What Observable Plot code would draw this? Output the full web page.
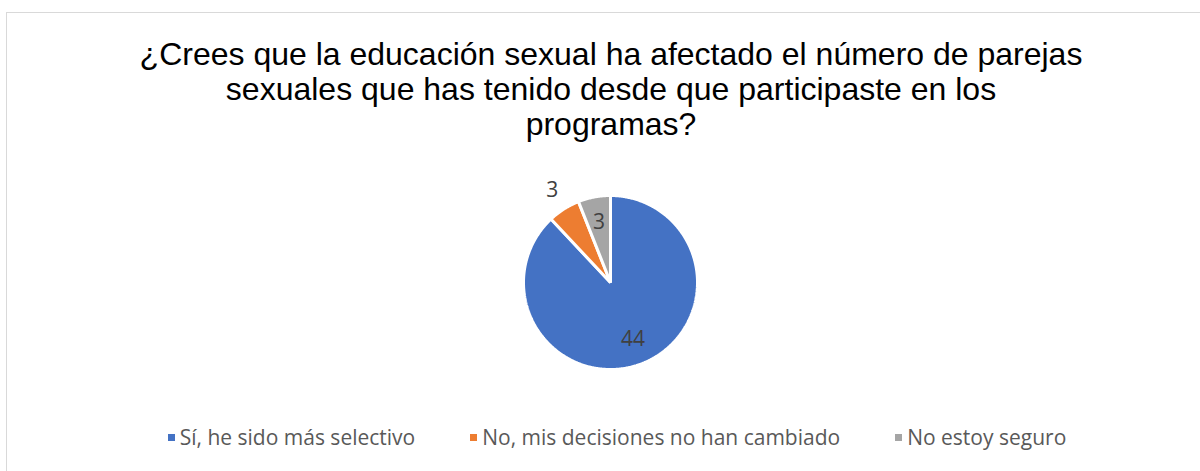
<!DOCTYPE html>
<html>
<head>
<meta charset="utf-8">
<script src="https://cdn.jsdelivr.net/npm/d3@7"></script>
<script src="https://cdn.jsdelivr.net/npm/@observablehq/plot@0.6"></script>
<style>
  html, body { margin: 0; padding: 0; background: #fff; }
  #wrap { position: relative; width: 1200px; height: 471px; overflow: hidden; }
  #frame { position: absolute; left: 6px; top: 12px; width: 1300px; height: 600px; border: 1.5px solid #d9d9d9; box-sizing: border-box; }
  #title { position: absolute; left: 0; width: 1222px; top: 37px; text-align: center;
           font-family: "Liberation Sans", Arial, sans-serif; font-size: 32px; line-height: 35px; color: #000; }
  #chart { position: absolute; left: 483px; top: 155px; }
  #legend { position: absolute; top: 423px; left: 0; width: 1234px; display: flex; justify-content: center; gap: 55px;
            font-family: "Open Sans", sans-serif; font-size: 21px; color: #595959; }
  .item { display: flex; align-items: center; }
  .sw { width: 7px; height: 7px; margin-right: 5px; }
</style>
</head>
<body>
<div id="wrap">
  <div id="frame"></div>
  <div id="title">¿Crees que la educación sexual ha afectado el número de parejas<br>sexuales que has tenido desde que participaste en los<br>programas?</div>
  <div id="chart"></div>
  <div id="legend"></div>
</div>
<script>
const categories = ["Sí, he sido más selectivo", "No, mis decisiones no han cambiado", "No estoy seguro"];
const values = [44, 3, 3];
const colors = ["#4472C4", "#ED7D31", "#A5A5A5"];

const rows = categories.map((c, i) => ({category: c, value: values[i]}));
const arcs = d3.pie().sort(null).value(d => d.value)(rows);

// slice polygons in unit coordinates (angle clockwise from 12 o'clock, y up)
function slicePolygon(a) {
  const pts = [[0, 0]];
  const n = Math.max(2, Math.ceil((a.endAngle - a.startAngle) / 0.01));
  for (let k = 0; k <= n; k++) {
    const t = a.startAngle + (a.endAngle - a.startAngle) * k / n;
    pts.push([Math.sin(t), Math.cos(t)]);
  }
  pts.push([0, 0]);
  return pts;
}
const features = arcs.map(a => ({
  type: "Feature",
  properties: {category: a.data.category, value: a.data.value},
  geometry: {type: "Polygon", coordinates: [slicePolygon(a)]}
}));
const outline = {type: "Polygon", coordinates: [d3.range(0, 361, 5).map(d => [Math.sin(d * Math.PI / 180), Math.cos(d * Math.PI / 180)])]};

const labels = arcs.map((a, i) => {
  const mid = (a.startAngle + a.endAngle) / 2;
  const r = i === 1 ? 1.25 : 0.7;
  return {x: r * Math.sin(mid), y: r * Math.cos(mid), text: String(a.data.value)};
});

const plot = Plot.plot({
  width: 254,
  height: 254,
  margin: 40,
  projection: {type: "reflect-y", domain: outline, clip: false},
  color: {domain: categories, range: colors},
  marks: [
    Plot.geo(features, {fill: d => d.properties.category, stroke: "white", strokeWidth: 3, strokeLinejoin: "miter"}),
    Plot.text(labels, {x: "x", y: "y", text: "text", fontSize: 21, fill: "#404040", fontFamily: "'Open Sans', sans-serif", clip: false})
  ],
  style: {overflow: "visible", background: "transparent"}
});
document.getElementById("chart").appendChild(plot);

const legend = document.getElementById("legend");
categories.forEach((c, i) => {
  const item = document.createElement("div");
  item.className = "item";
  const sw = document.createElement("span");
  sw.className = "sw";
  sw.style.background = colors[i];
  const t = document.createElement("span");
  t.textContent = c;
  item.appendChild(sw);
  item.appendChild(t);
  legend.appendChild(item);
});
</script>
</body>
</html>
